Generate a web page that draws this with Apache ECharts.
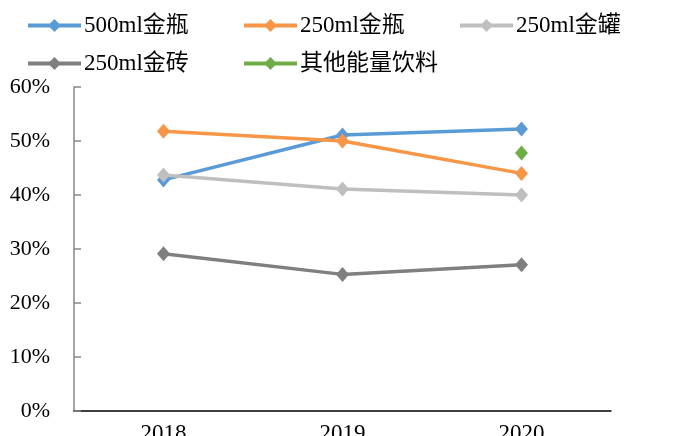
<!DOCTYPE html>
<html>
<head>
<meta charset="utf-8">
<script src="https://cdn.jsdelivr.net/npm/echarts@6/dist/echarts.min.js"></script>
<style>
  html, body { margin: 0; padding: 0; background: #fff; }
  #chart { width: 676px; height: 436px; }
</style>
</head>
<body>
<div id="chart"></div>
<script>
// Share of each product line by year (%)
const years = ['2018', '2019', '2020'];
const seriesNames = ['500ml金瓶', '250ml金瓶', '250ml金罐', '250ml金砖', '其他能量饮料'];
const bottle500 = [42.8, 51.1, 52.2];
const bottle250 = [51.8, 50.0, 44.0];
const can250 = [43.7, 41.1, 40.0];
const brick250 = [29.1, 25.3, 27.1];
const otherEnergy = ['-', '-', 47.8];
const colors = ['#5B9BD5', '#F79646', '#BFBFBF', '#7F7F7F', '#70AD47'];

const FONT = 'Liberation Serif, Noto Sans CJK SC';
const values = [bottle500, bottle250, can250, brick250, otherEnergy];

// one legend block per entry so the entries line up in fixed columns
const legendPos = [
  { left: 26, top: 14 }, { left: 242, top: 14 }, { left: 458, top: 14 },
  { left: 26, top: 52 }, { left: 242, top: 52 }
];
const legends = seriesNames.map((name, i) => ({
  data: [name],
  left: legendPos[i].left,
  top: legendPos[i].top,
  itemWidth: 53,
  itemHeight: 16,
  itemGap: 0,
  padding: 0,
  lineStyle: { width: 4 },
  textStyle: { fontFamily: FONT, fontSize: 23, color: '#000', padding: [0, 0, 0, -2] }
}));

const chart = echarts.init(document.getElementById('chart'), null, { renderer: 'canvas' });
chart.setOption({
  backgroundColor: '#fff',
  animation: false,
  legend: legends,
  grid: { left: 74, right: 65, top: 87, bottom: 25, containLabel: false, outerBoundsMode: 'none' },
  xAxis: {
    type: 'category',
    data: years,
    boundaryGap: true,
    axisLine: { lineStyle: { color: '#000', width: 1.5 } },
    axisTick: { inside: true, length: 7, lineStyle: { color: '#888', width: 1.5 } },
    axisLabel: { fontFamily: FONT, fontSize: 23, color: '#000', margin: 11 }
  },
  yAxis: {
    type: 'value',
    min: 0, max: 60, interval: 10,
    axisLine: { show: true, lineStyle: { color: '#888', width: 1.5 } },
    axisTick: { show: true, inside: true, length: 7, lineStyle: { color: '#888', width: 1.5 } },
    splitLine: { show: false },
    axisLabel: { fontFamily: FONT, fontSize: 22, color: '#000', margin: 24, formatter: '{value}%' }
  },
  series: seriesNames.map((name, i) => ({
    name: name,
    type: 'line',
    data: values[i],
    color: colors[i],
    symbol: 'diamond',
    symbolSize: [13, 15],
    showSymbol: true,
    lineStyle: { width: 3.5, color: colors[i] },
    itemStyle: { color: colors[i] }
  }))
});
</script>
</body>
</html>
